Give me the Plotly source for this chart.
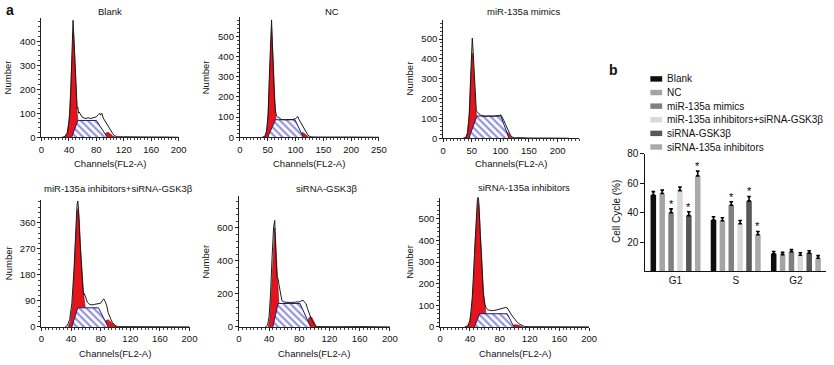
import plotly.graph_objects as go

W, H = 834, 365
FONT = "Arial, Liberation Sans, sans-serif"

# ---------------- Panel a: DNA histograms ----------------
titles = ["Blank", "NC", "miR-135a mimics",
          "miR-135a inhibitors+siRNA-GSK3β", "siRNA-GSK3β", "siRNA-135a inhibitors"]

blank_raw = [(30,0),(34,3),(38,20),(41,90),(43,220),(45,400),(46,487),(47,430),(49,300),(51,180),(52,120),(53,125),(54,100),(55,105),(57,95),(59,85),(62,80),(65,78),(68,82),(71,78),(74,80),(77,82),(80,85),(83,95),(85,100),(86,92),(88,100),(90,80),(92,70),(95,55),(98,45),(101,30),(104,15),(107,6),(110,2),(120,2),(130,1),(140,2),(160,1),(180,1),(200,0)]
blank_g1 = [(33,0),(37,15),(40,60),(42,150),(44,300),(45.5,420),(46.5,440),(47.5,400),(49,280),(50.5,170),(52,100),(53.5,60),(55,30),(57,10),(60,0)]
blank_s = [(44,0),(53,70),(80,70),(96,0)]
blank_g2 = [(88,0),(92,12),(95,20),(98,20),(101,12),(104,5),(108,0)]

nc_raw = [(40,0),(45,5),(48,30),(51,120),(53,300),(55,480),(57,582),(58,500),(60,330),(62,200),(64,130),(66,105),(68,100),(70,100),(72,92),(75,88),(80,87),(85,88),(90,86),(95,88),(100,92),(102,100),(104,103),(106,90),(108,80),(110,65),(113,50),(116,35),(119,22),(122,12),(125,5),(128,2),(135,1),(150,2),(170,1),(200,1),(250,0)]
nc_g1 = [(44,0),(47,15),(50,70),(52,200),(54,380),(56,520),(57,540),(58,500),(60,360),(62,220),(64,120),(66,60),(68,25),(71,5),(74,0)]
nc_s = [(50,0),(64,87),(99,87),(114,0)]
nc_g2 = [(104,0),(108,12),(111,22),(114,22),(117,14),(120,7),(124,0)]

mim_raw = [(35,0),(40,5),(43,30),(46,130),(48,300),(50,450),(51,505),(52,460),(54,330),(56,200),(58,140),(60,130),(62,125),(65,118),(70,112),(75,110),(80,112),(85,110),(90,112),(95,112),(99,115),(101,118),(103,108),(106,90),(109,70),(112,48),(115,28),(118,14),(121,6),(125,2),(135,3),(150,1),(180,1),(220,0)]
mim_g1 = [(39,0),(42,20),(45,100),(47,250),(49,380),(50.5,430),(52,420),(53.5,330),(55,230),(57,150),(59,95),(61,55),(63,25),(66,8),(69,0)]
mim_s = [(45,0),(59,112),(101,112),(115,0)]
mim_g2 = [(100,0),(104,20),(107,35),(110,38),(113,30),(116,18),(119,8),(122,0)]

inh_raw = [(32,0),(35,5),(38,25),(41,80),(44,200),(46,330),(48,420),(49,435),(50,410),(52,300),(54,190),(56,130),(57,110),(58,115),(60,100),(62,85),(65,78),(68,76),(72,78),(76,80),(80,82),(82,90),(84,97),(86,88),(88,75),(90,50),(92,35),(94,25),(96,15),(98,8),(100,4),(104,1),(120,1),(140,2),(160,1),(200,0)]
inh_g1 = [(36,0),(39,20),(42,80),(44,180),(46,310),(48,400),(49.5,410),(51,370),(53,260),(55,170),(57,110),(59,70),(61,40),(63,20),(66,5),(69,0)]
inh_s = [(41,0),(49,66),(77,66),(90,0)]
inh_g2 = [(80,0),(84,12),(87,22),(90,25),(93,20),(96,12),(99,5),(102,0)]

gsk_raw = [(35,0),(38,10),(40,60),(42,200),(44,420),(46,600),(47.5,645),(48.5,560),(49.5,400),(50.5,300),(52,290),(53,260),(55,200),(57,160),(60,150),(65,148),(70,148),(75,150),(80,152),(83,158),(85,162),(87,150),(89,140),(91,110),(93,80),(95,60),(97,40),(99,20),(101,8),(103,2),(110,1),(130,1),(160,2),(200,0)]
gsk_g1 = [(39,0),(41,50),(43,200),(45,420),(46.5,580),(47.5,600),(48.5,540),(50,380),(51.5,240),(53,140),(55,70),(57,30),(60,8),(63,0)]
gsk_s = [(45,0),(52,142),(81,142),(95,0)]
gsk_g2 = [(88,0),(91,30),(93,55),(95,63),(97,55),(99,35),(101,15),(103,0)]

si_raw = [(33,0),(37,5),(40,30),(43,130),(46,330),(48,500),(50,590),(51,608),(52,570),(54,420),(56,250),(58,150),(60,105),(62,85),(65,78),(70,75),(75,78),(80,82),(84,85),(88,90),(90,88),(92,75),(95,60),(98,45),(101,32),(104,20),(107,12),(110,6),(113,2),(118,1),(140,1),(170,1),(200,0)]
si_g1 = [(36,0),(39,15),(42,70),(45,220),(47,400),(49,540),(50.5,580),(52,560),(54,450),(56,300),(58,170),(60,90),(62,40),(65,12),(68,0)]
si_s = [(46,0),(53,61),(90,61),(99,0)]
si_g2 = [(92,0),(96,6),(100,10),(104,9),(107,5),(111,0)]

hist_data = [
    (blank_raw, blank_g1, blank_s, blank_g2),
    (nc_raw, nc_g1, nc_s, nc_g2),
    (mim_raw, mim_g1, mim_s, mim_g2),
    (inh_raw, inh_g1, inh_s, inh_g2),
    (gsk_raw, gsk_g1, gsk_s, gsk_g2),
    (si_raw, si_g1, si_s, si_g2),
]

x_ranges = [[0, 200], [0, 250], [0, 238], [0, 200], [0, 200], [0, 200]]
x_dticks = [40, 50, 50, 40, 40, 40]
y_ranges = [[0, 498], [0, 598], [0, 598], [0, 440], [0, 795], [0, 598]]
y_dticks = [100, 100, 100, 90, 200, 100]

# ---------------- Panel b: bar chart ----------------
phases = ["G1", "S", "G2"]
groups = ["Blank", "NC", "miR-135a mimics", "miR-135a inhibitors+siRNA-GSK3β",
          "siRNA-GSK3β", "siRNA-135a inhibitors"]
blank_vals = [52, 35, 12]
nc_vals = [53, 34.5, 11.5]
mimics_vals = [40, 45, 13.5]
inhsi_vals = [55, 32.5, 11]
sigsk_vals = [38, 48, 12.5]
si135_vals = [65, 25, 9]
blank_err = [2.3, 2.2, 1.6]
nc_err = [2.3, 2.0, 1.5]
mimics_err = [2.6, 2.4, 1.5]
inhsi_err = [2.4, 2.2, 1.7]
sigsk_err = [2.6, 3.0, 1.6]
si135_err = [3.2, 2.2, 1.8]
blank_star = [0, 0, 0]
nc_star = [0, 0, 0]
mimics_star = [1, 1, 0]
inhsi_star = [0, 0, 0]
sigsk_star = [1, 1, 0]
si135_star = [1, 1, 0]
bar_colors = ["#0e0e0e", "#a4a4a4", "#808080", "#d9d9d9", "#575757", "#a9a9a9"]

bar_vals = [blank_vals, nc_vals, mimics_vals, inhsi_vals, sigsk_vals, si135_vals]
bar_errs = [blank_err, nc_err, mimics_err, inhsi_err, sigsk_err, si135_err]
bar_stars = [blank_star, nc_star, mimics_star, inhsi_star, sigsk_star, si135_star]

# ---------------- layout helpers ----------------
def xd(a, b):
    return [a / W, b / W]

def yd(top, bottom):
    return [1 - bottom / H, 1 - top / H]

def note(text, px, py, size=9.5, angle=0, xanchor="center", bold=False):
    return dict(text=f"<b>{text}</b>" if bold else text, x=px / W, y=1 - py / H,
                xref="paper", yref="paper", xanchor=xanchor, yanchor="middle",
                showarrow=False, textangle=angle,
                font=dict(family=FONT, size=size, color="#111"))

hist_xdom = [xd(39, 178), xd(240, 381), xd(446, 584), xd(39, 189), xd(239, 392), xd(443, 594)]
hist_ydom = [yd(13, 136), yd(12, 136), yd(15, 137), yd(200, 331), yd(196, 331), yd(198, 331)]
title_px = [(108, 7), (333, 7), (528, 7), (117, 189), (328, 189), (528, 188)]
ylab_px = [5, 206, 412, 5, 205, 412]

RED = "#e3141c"
fig = go.Figure()
layout = dict(width=W, height=H, margin=dict(l=0, r=0, t=0, b=0),
              paper_bgcolor="white", plot_bgcolor="white", showlegend=False,
              font=dict(family=FONT, size=9.5, color="#111"))

tickfont = dict(family=FONT, size=9.5, color="#111")
annotations = []
shapes = []

for i, (raw, g1, s, g2) in enumerate(hist_data):
    n = i + 1
    xa = "x" if n == 1 else f"x{n}"
    ya = "y" if n == 1 else f"y{n}"
    for poly, kind in ((g1, "g1"), (g2, "g2"), (s, "s")):
        px = [p[0] for p in poly]
        py = [p[1] for p in poly]
        if kind == "s":
            fig.add_trace(go.Scatter(x=px, y=py, xaxis=xa, yaxis=ya, mode="lines",
                                     fill="toself", fillcolor="white",
                                     fillpattern=dict(shape="\\", fgcolor="#2a2ab4", bgcolor="white",
                                                      size=5, solidity=0.45),
                                     line=dict(color="#1c1c7a", width=1), hoverinfo="skip"))
        else:
            fig.add_trace(go.Scatter(x=px, y=py, xaxis=xa, yaxis=ya, mode="lines",
                                     fill="toself", fillcolor=RED,
                                     line=dict(color="#7a0a0a", width=0.6), hoverinfo="skip"))
    fig.add_trace(go.Scatter(x=[p[0] for p in raw], y=[p[1] for p in raw], xaxis=xa, yaxis=ya,
                             mode="lines", line=dict(color="#1a1a1a", width=1), hoverinfo="skip"))
    kx = "xaxis" if n == 1 else f"xaxis{n}"
    ky = "yaxis" if n == 1 else f"yaxis{n}"
    layout[kx] = dict(domain=hist_xdom[i], range=x_ranges[i], anchor=ya, dtick=x_dticks[i], tick0=0,
                      showline=True, linecolor="#222", linewidth=1, ticks="outside", ticklen=3,
                      tickcolor="#222", showgrid=False, zeroline=False, tickfont=tickfont,
                      minor=dict(ticks="outside", ticklen=2, dtick=x_dticks[i] / 8, tickcolor="#444"))
    layout[ky] = dict(domain=hist_ydom[i], range=y_ranges[i], anchor=xa, dtick=y_dticks[i], tick0=0,
                      showline=True, linecolor="#222", linewidth=1, ticks="outside", ticklen=3,
                      tickcolor="#222", showgrid=False, zeroline=False, tickfont=tickfont,
                      minor=dict(ticks="outside", ticklen=2, dtick=y_dticks[i] / 5, tickcolor="#444"))
    xc = (hist_xdom[i][0] + hist_xdom[i][1]) / 2 * W
    top_row = i < 3
    xlab_y = 163 if top_row else 358
    ymid = (1 - (hist_ydom[i][0] + hist_ydom[i][1]) / 2) * H
    annotations.append(note(titles[i], *title_px[i]))
    annotations.append(note("Channels(FL2-A)", xc, xlab_y))
    annotations.append(note("Number", ylab_px[i], ymid, angle=-90))

# bar chart
slot = 0.1475
barw = 0.092
for si, name in enumerate(groups):
    xs = [gi + (si - 2.5) * slot for gi in range(len(phases))]
    fig.add_trace(go.Bar(x=xs, y=bar_vals[si], width=barw, marker=dict(color=bar_colors[si], line=dict(width=0)),
                         error_y=dict(type="data", array=bar_errs[si], arrayminus=[0] * 3, symmetric=False,
                                      color="#000", thickness=1.6, width=1.8),
                         xaxis="x7", yaxis="y7", name=name, hoverinfo="skip"))
    for k in range(len(phases)):
        if bar_stars[si][k]:
            annotations.append(dict(text="*", x=xs[k], y=bar_vals[si][k] + bar_errs[si][k],
                                    xref="x7", yref="y7", xanchor="center", yanchor="bottom",
                                    yshift=-3, showarrow=False,
                                    font=dict(family=FONT, size=11, color="#000000")))

layout["barmode"] = "overlay"
layout["xaxis7"] = dict(domain=xd(651, 834), range=[-0.5, 2.5], anchor="y7", tickvals=[0, 1, 2],
                        ticktext=phases, showline=True, linecolor="#111", linewidth=1, ticks="",
                        showgrid=False, zeroline=False, tickfont=dict(family=FONT, size=10, color="#111"))
layout["yaxis7"] = dict(domain=yd(153, 274), range=[0, 80], anchor="x7", tickvals=[20, 40, 60, 80],
                        showline=True, linecolor="#111", linewidth=1, ticks="outside", ticklen=4,
                        tickcolor="#111", showgrid=False, zeroline=False,
                        tickfont=dict(family=FONT, size=10, color="#111"))
annotations.append(note("Cell Cycle (%)", 621, 212, size=10, angle=-90))

# manual legend for panel b
for si, name in enumerate(groups):
    yc = 76 + 14 * si
    shapes.append(dict(type="rect", xref="paper", yref="paper", x0=656 / W, x1=668 / W,
                       y0=1 - (yc + 2.8) / H, y1=1 - (yc - 2.8) / H,
                       fillcolor=bar_colors[si], line=dict(width=0)))
    annotations.append(note(name, 671, yc, size=10, xanchor="left"))

# panel letters
annotations.append(note("a", 1, 5, size=14, xanchor="left", bold=True))
annotations.append(note("b", 612, 67, size=14, xanchor="left", bold=True))

layout["annotations"] = annotations
layout["shapes"] = shapes
fig.update_layout(**layout)
fig.write_html("out.html", config={"displayModeBar": False},
               post_script="document.body.style.margin='0px';")
